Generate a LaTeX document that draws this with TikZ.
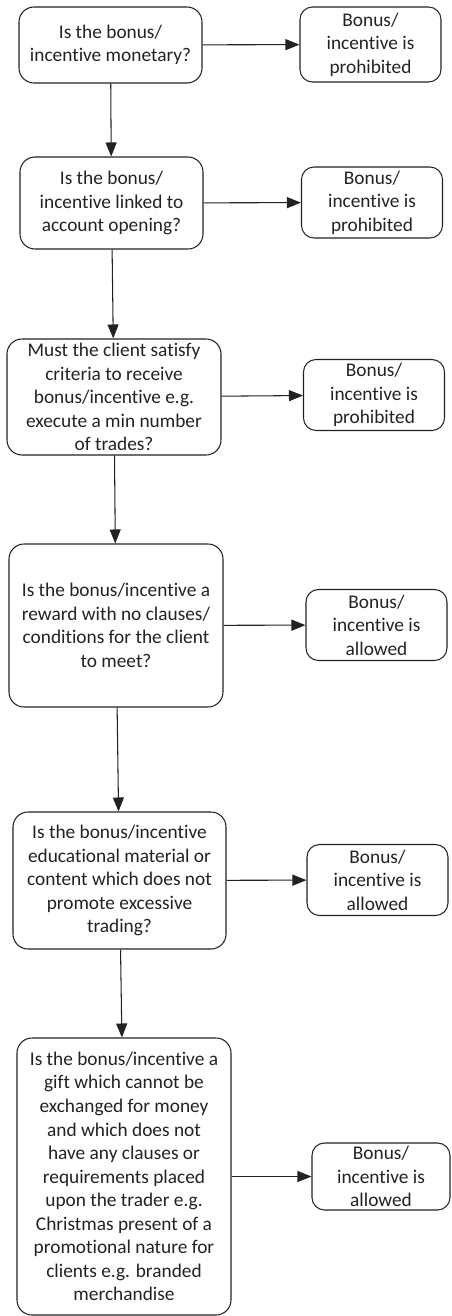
\documentclass[tikz,border=0pt]{standalone}
\usepackage{fontspec}
\setmainfont{Carlito}[Ligatures=NoCommon]
\usetikzlibrary{arrows.meta}
\definecolor{ink}{HTML}{222222}
\begin{document}
\begin{tikzpicture}
		[every node/.style={inner sep=1pt, align=center, text=ink, font=\fontsize{11}{13.4}\selectfont},
		 question/.style={draw=ink, rounded corners=0.3cm, minimum width=4.28cm},
		 outcome/.style={draw=ink, rounded corners=0.25cm, minimum width=2.82cm, minimum height=1.42cm},
		 >={Triangle[length=0.28cm, width=0.22cm]}, line width=0.6pt, draw=ink]
		\useasboundingbox (0,0) rectangle (9.02,-26.32);
		\node[question, minimum width=3.66cm, minimum height=1.52cm] (q1) at (2.21,-0.90) {Is the bonus/\\incentive monetary?};
		\node[question, minimum width=3.66cm, minimum height=1.84cm] (q2) at (2.23,-4.06) {Is the bonus/\\incentive linked to\\account opening?};
		\node[question, minimum height=2.32cm] (q3) at (2.28,-7.94) {Must the client satisfy\\criteria to receive\\bonus/incentive e.g.\\execute a min number\\of trades?};
		\node[question, minimum height=3.26cm] (q4) at (2.32,-12.51) {Is the bonus/incentive a\\reward with no clauses/\\conditions for the client\\to meet?};
		\node[question, minimum width=4.26cm, minimum height=2.74cm] (q5) at (2.39,-17.61) {Is the bonus/incentive\\educational material or\\content which does not\\promote excessive\\trading?};
		\node[question, minimum height=5.54cm] (q6) at (2.48,-23.53) {Is the bonus/incentive a\\gift which cannot be\\exchanged for money\\and which does not\\have any clauses or\\requirements placed\\upon the trader e.g.\\Christmas present of a\\promotional nature for\\clients e.g. branded\\merchandise};
		
		\node[outcome, minimum height=1.50cm] (r1) at (7.41,-0.89) {Bonus/\\incentive is\\prohibited};
		\node[outcome] (r2) at (7.44,-4.05) {Bonus/\\incentive is\\prohibited};
		\node[outcome] (r3) at (7.48,-7.90) {Bonus/\\incentive is\\prohibited};
		\node[outcome] (r4) at (7.53,-12.50) {Bonus/\\incentive is\\allowed};
		\node[outcome] (r5) at (7.55,-17.60) {Bonus/\\incentive is\\allowed};
		\node[outcome, minimum width=2.76cm, minimum height=1.34cm] (r6) at (7.62,-23.53) {Bonus/\\incentive is\\allowed};
		
		\path[->] (q1) edge (r1);
		\path[->] (q2) edge (r2);
		\path[->] (q3) edge (r3);
		\path[->] (q4) edge (r4);
		\path[->] (q5) edge (r5);
		\path[->] (q6) edge (r6);
		\path[->] (q1) edge (q2);
		\path[->] (q2) edge (q3);
		\path[->] (q3) edge (q4);
		\path[->] (q4) edge (q5);
		\path[->] (q5) edge (q6);
		\end{tikzpicture}
\end{document}
